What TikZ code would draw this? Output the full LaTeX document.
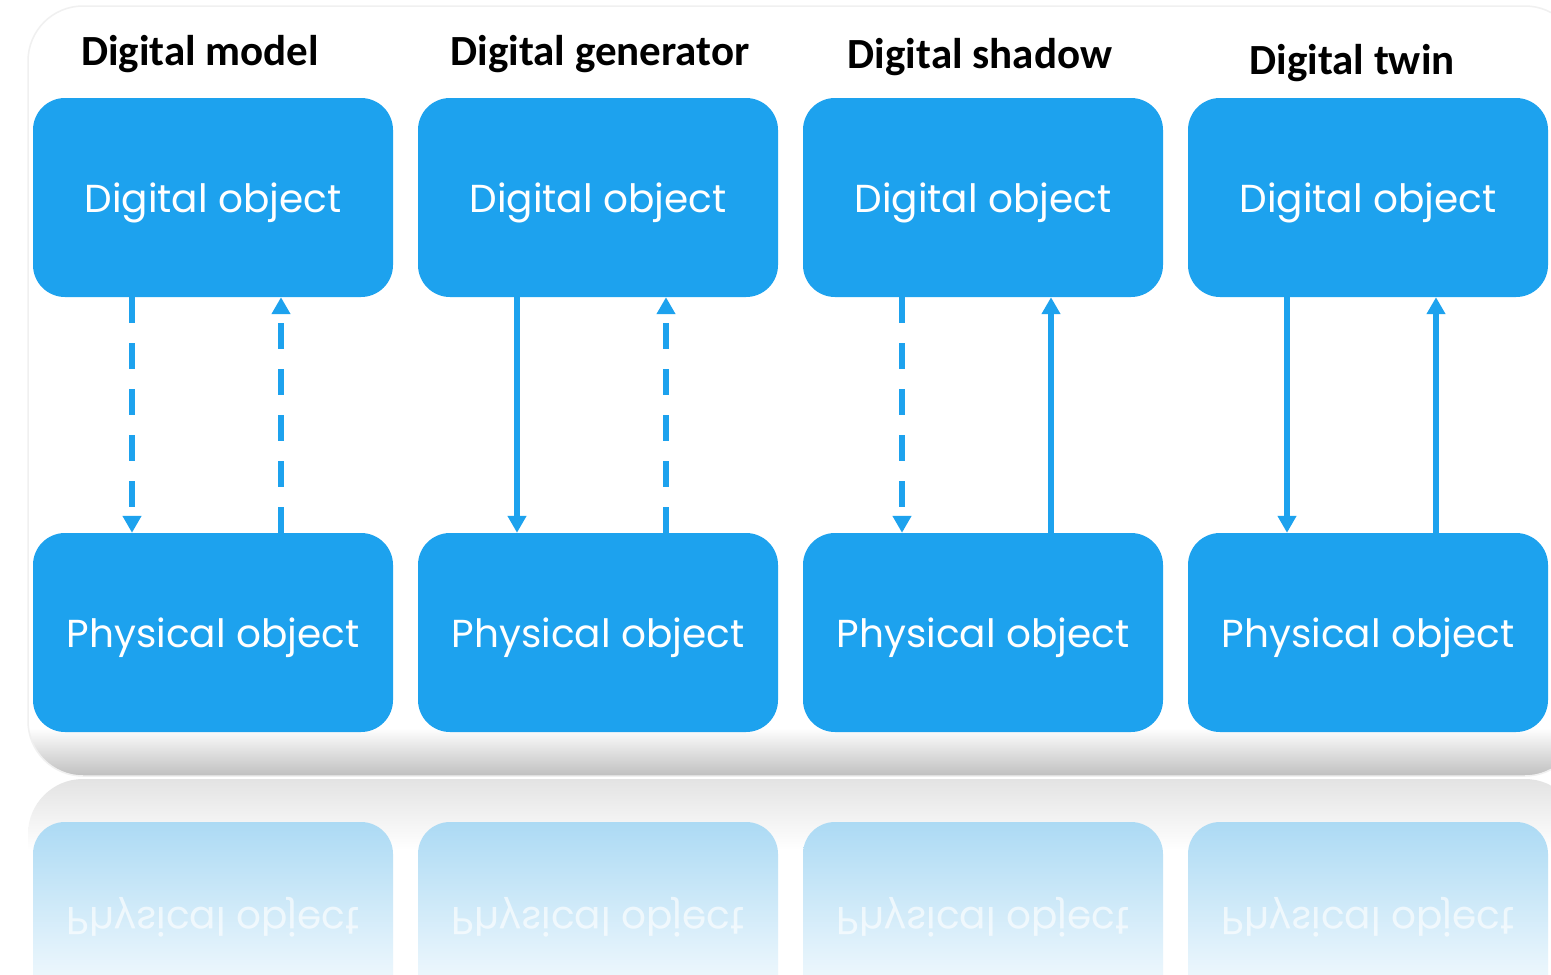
\documentclass[tikz,border=0pt]{standalone}
\usepackage{fontspec}
\setmainfont{Carlito}
\newfontfamily\boxfont{Poppins}
\usetikzlibrary{arrows.meta}
\definecolor{twinblue}{RGB}{29,162,238}
\definecolor{mirrorblue}{RGB}{172,218,244}
\tikzset{
  objbox/.style={fill=twinblue, rounded corners=32pt, minimum width=360pt,
    minimum height=199pt, inner sep=0pt, text=white, text height=33pt, text depth=4pt,
    font=\boxfont\fontsize{39}{41}\selectfont},
  mirrorbox/.style={objbox, fill=none, top color=mirrorblue, bottom color=white,
    text height=4pt, text depth=33pt, text=white, text opacity=.65},
  title/.style={anchor=base, font=\bfseries\fontsize{43}{45}\selectfont, text=black},
  flow/.style={draw=twinblue, line width=6pt, -{Triangle[width=18pt,length=17pt]}},
  flowdash/.style={flow, dash pattern=on 26pt off 20pt},
}
\begin{document}
\begin{tikzpicture}[x=1pt,y=1pt]
    \clip (0,0) rectangle (1551,-975);
    \fill[white] (0,0) rectangle (1551,-975);

    \begin{scope}
      \clip[rounded corners=55pt] (28,-6) rectangle (1580,-776);
      \fill[white] (0,0) rectangle (1551,-776);
      \shade[top color=white, bottom color=gray!50] (0,-728) rectangle (1551,-776);
    \end{scope}
    \draw[gray!12, line width=1.5pt, rounded corners=55pt] (28,-6) rectangle (1580,-776);

    \begin{scope}
      \clip[rounded corners=55pt] (28,-779) rectangle (1580,-1400);
      \shade[top color=gray!22, bottom color=white] (0,-779) rectangle (1551,-850);
    \end{scope}

    \begin{scope}[shift={(0,0)}]
      \node[title] (t1) at (200,-65) {Digital model};
      \node[objbox] (dm1) at (213,-197.5) {Digital object};
      \node[objbox] (pm1) at (213,-632.5) {Physical object};
      \node[mirrorbox] (rm1) at (213,-921.5) {\scalebox{1}[-1]{Physical object}};

      \draw[flowdash] ([xshift=-81pt]dm1.south) -- ([xshift=-81pt]pm1.north);
      \draw[flowdash] ([xshift=68pt]pm1.north) -- ([xshift=68pt]dm1.south);
    \end{scope}
    \begin{scope}[shift={(385,0)}]
      \node[title] (t2) at (215,-65) {Digital generator};
      \node[objbox] (dm2) at (213,-197.5) {Digital object};
      \node[objbox] (pm2) at (213,-632.5) {Physical object};
      \node[mirrorbox] (rm2) at (213,-921.5) {\scalebox{1}[-1]{Physical object}};

      \draw[flow]     ([xshift=-81pt]dm2.south) -- ([xshift=-81pt]pm2.north);
      \draw[flowdash] ([xshift=68pt]pm2.north) -- ([xshift=68pt]dm2.south);
    \end{scope}
    \begin{scope}[shift={(770,0)}]
      \node[title] (t3) at (210,-68) {Digital shadow};
      \node[objbox] (dm3) at (213,-197.5) {Digital object};
      \node[objbox] (pm3) at (213,-632.5) {Physical object};
      \node[mirrorbox] (rm3) at (213,-921.5) {\scalebox{1}[-1]{Physical object}};

      \draw[flowdash] ([xshift=-81pt]dm3.south) -- ([xshift=-81pt]pm3.north);
      \draw[flow]     ([xshift=68pt]pm3.north) -- ([xshift=68pt]dm3.south);
    \end{scope}
    \begin{scope}[shift={(1155,0)}]
      \node[title] (t4) at (197,-74) {Digital twin};
      \node[objbox] (dm4) at (213,-197.5) {Digital object};
      \node[objbox] (pm4) at (213,-632.5) {Physical object};
      \node[mirrorbox] (rm4) at (213,-921.5) {\scalebox{1}[-1]{Physical object}};

      \draw[flow] ([xshift=-81pt]dm4.south) -- ([xshift=-81pt]pm4.north);
      \draw[flow] ([xshift=68pt]pm4.north) -- ([xshift=68pt]dm4.south);
    \end{scope}
\end{tikzpicture}
\end{document}
